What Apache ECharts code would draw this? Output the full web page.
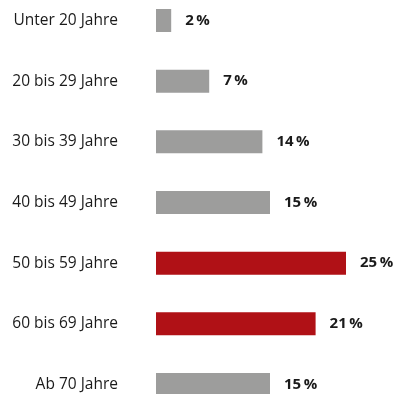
<!DOCTYPE html>
<html>
<head>
<meta charset="utf-8">
<script src="https://cdn.jsdelivr.net/npm/echarts@6/dist/echarts.min.js"></script>
<style>
  html, body { margin: 0; padding: 0; background: #fff; }
  #chart { width: 393px; height: 394px; }
</style>
</head>
<body>
<div id="chart"></div>
<script>
// Altersgruppen und Anteile in Prozent
const categories = ['Unter 20 Jahre', '20 bis 29 Jahre', '30 bis 39 Jahre', '40 bis 49 Jahre', '50 bis 59 Jahre', '60 bis 69 Jahre', 'Ab 70 Jahre'];
const values = [2, 7, 14, 15, 25, 21, 15];
// hervorgehobene Gruppen
const highlighted = ['50 bis 59 Jahre', '60 bis 69 Jahre'];

const GREY = '#9d9d9c';
const RED = '#b01116';
const FONT = '"Liberation Sans Narrow", "Open Sans", sans-serif';

const chart = echarts.init(document.getElementById('chart'), null, { renderer: 'canvas' });
chart.setOption({
  animation: false,
  grid: { left: 156, right: 9, top: 20.5, bottom: 9.5, containLabel: false },
  xAxis: {
    type: 'value', min: 0, max: 30, show: false
  },
  yAxis: {
    type: 'category',
    data: categories,
    inverse: true,
    boundaryGap: false,
    axisLine: { show: false },
    axisTick: { show: false },
    splitLine: { show: false },
    axisLabel: {
      margin: 38,
      color: '#1a1a1a',
      fontSize: 15.5,
      fontFamily: '"Open Sans", sans-serif'
    }
  },
  series: [{
    type: 'bar',
    data: values.map((v, i) => ({
      value: v,
      itemStyle: { color: highlighted.includes(categories[i]) ? RED : GREY }
    })),
    barWidth: 23,
    label: {
      show: true,
      position: 'right',
      distance: 14,
      formatter: p => p.value + '\u2009%',
      color: '#1a1a1a',
      fontSize: 15,
      fontWeight: 'bold',
      fontFamily: FONT
    }
  }]
});
</script>
</body>
</html>
